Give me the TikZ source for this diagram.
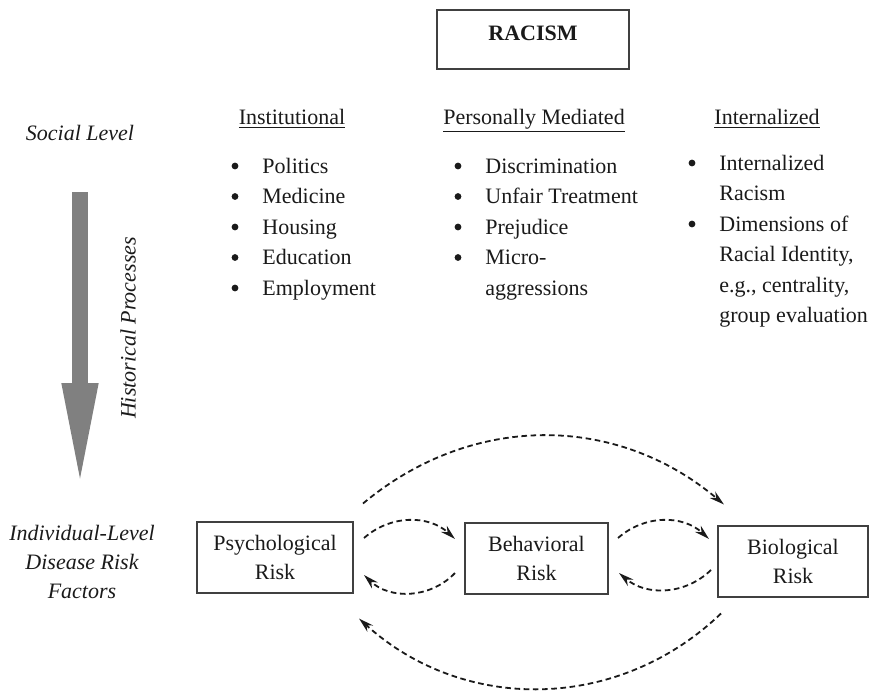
\documentclass[tikz,border=0pt]{standalone}
\usepackage{fontspec}
\setmainfont{Liberation Serif}
\usetikzlibrary{arrows.meta,calc}
\definecolor{ink}{HTML}{1A1A1A}
\definecolor{boxline}{HTML}{404040}
\definecolor{arrowgray}{HTML}{808080}

\begin{document}
\begin{tikzpicture}[x=0.5pt,y=0.5pt,
    every node/.style={text=ink,font=\fontsize{11}{14.5}\selectfont},
    riskbox/.style={draw=boxline,line width=1pt,align=center,minimum height=35.5pt,inner sep=0pt},
    feedback/.style={ink,dashed,dash pattern=on 2.8pt off 1.8pt,line width=0.9pt,-{Stealth[length=7.5pt,width=4.2pt]}},
    listitem/.style={anchor=base west,inner sep=0pt},
    dot/.style={circle,fill=ink,inner sep=0pt,minimum size=3.4pt}]
  \useasboundingbox (0,0) rectangle (871,-691);

  % top of the figure
  \node[draw=boxline,line width=1pt,minimum width=96pt,text height=7.5pt,text depth=6.5pt,inner ysep=7.75pt,font=\fontsize{11}{14}\selectfont\bfseries] (racism) at (533,-39.5) {RACISM};
  \node[anchor=base] (inst) at (292,-124) {\underline{Institutional}};
  \node[anchor=base] (pers) at (534,-124) {\underline{Personally Mediated}};
  \node[anchor=base] (intl) at (767,-124) {\underline{Internalized}};

  \foreach \txt [count=\i from 0] in {Politics,Medicine,Housing,Education,Employment}
    \node[listitem] (inst\i) at (262,{-173-30.5*\i}) {\txt};
  \foreach \i in {0,...,4}
    \node[dot] at (235,{-166-30.5*\i}) {};

  \foreach \txt [count=\i from 0] in {Discrimination,Unfair Treatment,Prejudice,Micro-,aggressions}
    \node[listitem] (pers\i) at (485,{-173-30.5*\i}) {\txt};
  \foreach \i in {0,...,3}
    \node[dot] at (458,{-166-30.5*\i}) {};

  \foreach \txt [count=\i from 0] in {Internalized,Racism,Dimensions of,{Racial Identity,},{e.g., centrality,},group evaluation}
    \node[listitem] (intl\i) at (719,{-170-30.5*\i}) {\txt};
  \foreach \i in {0,2}
    \node[dot] at (692,{-163-30.5*\i}) {};

  % left side
  \node[font=\fontsize{11}{14.5}\selectfont\itshape] (social) at (80,-133) {Social Level};
  \node[align=center,font=\fontsize{11}{14.5}\selectfont\itshape] (indiv) at (82,-562) {Individual-Level\\Disease Risk\\Factors};
  \node[rotate=90,font=\fontsize{11}{14.5}\selectfont\itshape] (hist) at (128,-328) {Historical Processes};
  \coordinate (histtop) at (80,-192);
  \coordinate (histtip) at (80,-492);
  \draw[arrowgray,line width=8pt,-{Triangle[length=54.5pt,width=16pt]}] (histtop) -- (histtip);

  % risk factors
  \node[riskbox,minimum width=78pt] (psych) at (275,-557) {Psychological\\Risk};
  \node[riskbox,minimum width=71.5pt] (behav) at (536.5,-558.5) {Behavioral\\Risk};
  \node[riskbox,minimum width=75pt] (bio) at (793,-561) {Biological\\Risk};

  \draw[feedback] ($(psych.east)+(10,19)$) to[bend left=42] ($(behav.west)+(-9,19.5)$);
  \draw[feedback] ($(behav.west)+(-9,-14.5)$) to[bend left=45] ($(psych.east)+(10,-18)$);
  \draw[feedback] ($(behav.east)+(9,20.5)$) to[bend left=42] ($(bio.west)+(-8,22)$);
  \draw[feedback] ($(bio.west)+(-6,-9)$) to[bend left=42] ($(behav.east)+(10,-14.5)$);
  \draw[feedback] ($(psych.north east)+(9,17)$) to[bend left=40] ($(bio.north west)+(7,20)$);
  \draw[feedback] ($(bio.south west)+(4,-16)$) to[bend left=43] ($(psych.south east)+(5,-25)$);
\end{tikzpicture}
\end{document}
